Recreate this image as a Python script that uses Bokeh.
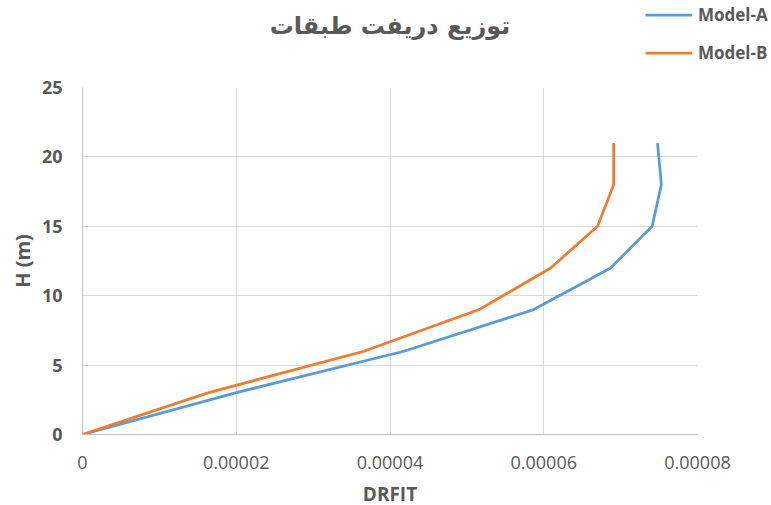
from bokeh.plotting import figure
from bokeh.layouts import column
from bokeh.models import FixedTicker, CustomJSTickFormatter, Legend, LegendItem, Label
from bokeh.embed import file_html
from bokeh.resources import INLINE

height_m = [0, 3, 6, 9, 12, 15, 18, 21]
model_a = [0, 1.99e-5, 4.18e-5, 5.87e-5, 6.87e-5, 7.41e-5, 7.53e-5, 7.48e-5]
model_b = [0, 1.63e-5, 3.66e-5, 5.16e-5, 6.09e-5, 6.70e-5, 6.91e-5, 6.91e-5]
x_ticks = [0, 0.00002, 0.00004, 0.00006, 0.00008]
y_ticks = [0, 5, 10, 15, 20, 25]
series_names = ["Model-A", "Model-B"]
series_colors = ["#5B9BD5", "#ED7D31"]
title_text = "توزیع دریفت طبقات"
x_label = "DRFIT"
y_label = "H (m)"

GRAY = "#595959"
W = 771
TOP_H, MAIN_H, BOT_H = 74, 406, 25
BL, BR, BT, BB = 82, 74, 13, 46
FRAME_CX = BL + (W - BL - BR) / 2


def blank(h, xr=(0, 1)):
    f = figure(width=W, height=h, output_backend="svg", toolbar_location=None,
               x_axis_type=None, y_axis_type=None, x_range=xr, y_range=(0, 1),
               min_border=0, outline_line_color=None, frame_align=False)
    f.xgrid.visible = False
    f.ygrid.visible = False
    return f


# header: title + legend (legend glyphs taken from the series, which fall outside this panel's range)
top = blank(TOP_H, xr=(1, 2))
top.add_layout(Label(x=FRAME_CX, y=TOP_H - 25, x_units="screen", y_units="screen",
                     text=title_text, text_font="DejaVu Sans", text_font_size="24px",
                     text_font_style="bold", text_color=GRAY,
                     text_align="center", text_baseline="middle"))
legend_lines = [top.line(vals, height_m, line_color=c, line_width=2.75)
                for vals, c in zip([model_a, model_b], series_colors)]
legend = Legend(items=[LegendItem(label=n, renderers=[r]) for n, r in zip(series_names, legend_lines)],
                location=(645, 10), orientation="vertical",
                glyph_width=47, glyph_height=23, label_height=23, spacing=15,
                label_standoff=6, padding=0, margin=0,
                label_text_font="Open Sans", label_text_font_size="17px",
                label_text_font_style="bold", label_text_color=GRAY,
                background_fill_alpha=0, border_line_color=None)
top.add_layout(legend)

# main chart
p = figure(width=W, height=MAIN_H, output_backend="svg", toolbar_location=None,
           x_range=(0, 0.00008), y_range=(0, 25), frame_align=False,
           min_border_left=BL, min_border_right=BR, min_border_bottom=BB, min_border_top=BT)
for vals, c in zip([model_a, model_b], series_colors):
    p.line(vals, height_m, line_color=c, line_width=2.75)

p.xaxis.ticker = FixedTicker(ticks=x_ticks)
p.yaxis.ticker = FixedTicker(ticks=y_ticks)
p.xaxis.formatter = CustomJSTickFormatter(code="return tick == 0 ? '0' : tick.toFixed(5);")
for ax in (p.xaxis[0], p.yaxis[0]):
    ax.major_tick_line_color = None
    ax.minor_tick_line_color = None
    ax.major_tick_out = 0
    ax.major_tick_in = 0
    ax.minor_tick_out = 0
    ax.axis_line_color = "#bfbfbf"
    ax.major_label_text_font = "Open Sans"
    ax.major_label_text_font_size = "18px"
    ax.major_label_text_color = GRAY
p.yaxis.major_label_text_font_style = "bold"
p.xaxis.major_label_text_font_style = "normal"
p.xaxis.major_label_standoff = 21
p.yaxis.major_label_standoff = 20
p.yaxis.axis_label = y_label
p.yaxis.axis_label_standoff = 3
p.yaxis.axis_label_text_font = "Open Sans"
p.yaxis.axis_label_text_font_size = "20px"
p.yaxis.axis_label_text_font_style = "bold"
p.yaxis.axis_label_text_color = GRAY
p.xgrid.grid_line_color = "#d9d9d9"
p.ygrid.grid_line_color = "#d9d9d9"
p.outline_line_color = None

# footer: x-axis title
bot = blank(BOT_H)
bot.add_layout(Label(x=FRAME_CX, y=BOT_H - 13, x_units="screen", y_units="screen",
                     text=x_label, text_font="Open Sans", text_font_size="19px",
                     text_font_style="bold", text_color=GRAY,
                     text_align="center", text_baseline="middle"))

layout = column(top, p, bot, spacing=0)
open("out.html", "w").write(file_html(layout, INLINE))
